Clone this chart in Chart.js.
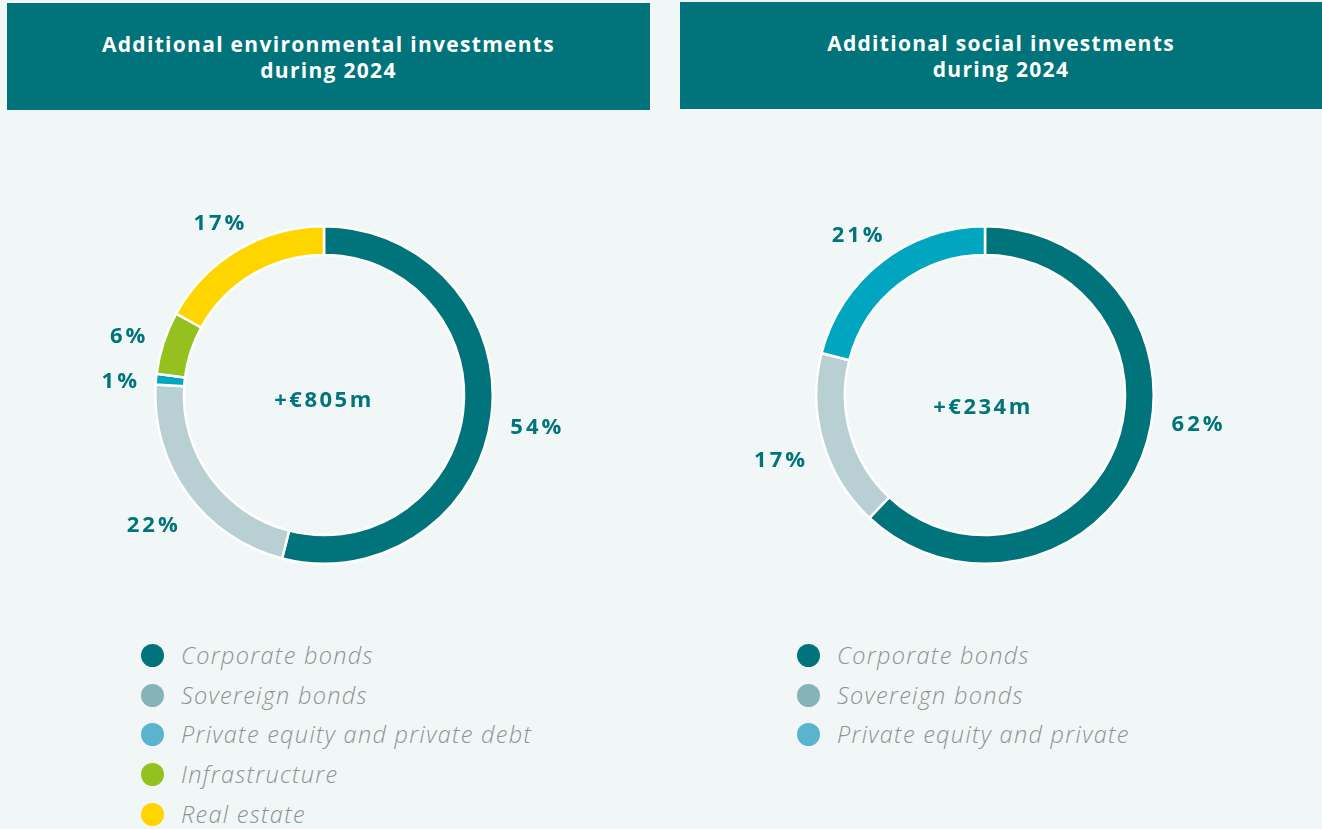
<!DOCTYPE html>
<html>
<head>
<meta charset="utf-8">
<script src="https://cdn.jsdelivr.net/npm/chart.js@4.4.1/dist/chart.umd.min.js"></script>
<style>
  html, body { margin: 0; padding: 0; }
  body { width: 1322px; height: 829px; background: #F1F6F6; position: relative; overflow: hidden; font-family: "Open Sans", sans-serif; }
  .hdr { position: absolute; background: #00747A; color: #fff; font-weight: 700; font-size: 21px; letter-spacing: 1.3px; line-height: 26px; text-align: center; display: flex; align-items: center; justify-content: center; }
  .hdr span { display: block; margin-top: 0px; }
  canvas { position: absolute; }
  .legend { position: absolute; margin: 0; padding: 0; list-style: none; }
  .legend li { position: relative; height: 39.7px; line-height: 39.7px; font-style: italic; font-weight: 300; font-size: 23.5px; letter-spacing: 1.3px; color: #8E9393; white-space: nowrap; }
  .legend li i { position: absolute; width: 23px; height: 23px; border-radius: 50%; top: 8px; }
</style>
</head>
<body>
<div class="hdr" style="left:7px;top:3px;width:643px;height:107px;"><span>Additional environmental investments<br>during 2024</span></div>
<div class="hdr" style="left:680px;top:2px;width:642px;height:107px;"><span>Additional social investments<br>during 2024</span></div>

<canvas id="envChart" width="650" height="500" style="left:0;top:120px;"></canvas>
<canvas id="socChart" width="662" height="500" style="left:660px;top:120px;"></canvas>

<ul class="legend" id="envLegend" style="left:141px;top:636px;"></ul>
<ul class="legend" id="socLegend" style="left:797px;top:636px;"></ul>

<script>
// ---- Data ----
const envCategories = ["Corporate bonds", "Sovereign bonds", "Private equity and private debt", "Infrastructure", "Real estate"];
const envValues = [54, 22, 1, 6, 17];
const envTotal = "+€805m";

const socCategories = ["Corporate bonds", "Sovereign bonds", "Private equity and private"];
const socValues = [62, 17, 21];
const socTotal = "+€234m";

// ---- Styles ----
const envArcColors = ["#00747A", "#B8D0D3", "#00A5C0", "#95C11F", "#FFD500"];
const envLegendColors = ["#00747A", "#86B3B6", "#5BB4CC", "#95C11F", "#FFD500"];
const socArcColors = ["#00747A", "#B8D0D3", "#00A5C0"];
const socLegendColors = ["#00747A", "#86B3B6", "#5BB4CC"];

const labelPlugin = {
  id: 'donutLabels',
  afterDatasetsDraw(chart, args, opts) {
    const ctx = chart.ctx;
    const meta = chart.getDatasetMeta(0);
    const values = chart.data.datasets[0].data;
    ctx.save();
    ctx.fillStyle = opts.color;
    ctx.font = opts.font;
    ctx.letterSpacing = opts.letterSpacing || '0px';
    ctx.textAlign = 'center';
    ctx.textBaseline = 'middle';
    const over = opts.angleOverrides || {};
    meta.data.forEach((arc, i) => {
      const p = arc.getProps(['x', 'y', 'startAngle', 'endAngle', 'outerRadius'], true);
      let mid = (p.startAngle + p.endAngle) / 2;
      if (over[i] !== undefined) mid = (over[i] - 90) * Math.PI / 180;
      const txt = values[i] + '%';
      const w = ctx.measureText(txt).width;
      const h = 16;
      const ux = Math.cos(mid), uy = Math.sin(mid);
      const d = p.outerRadius + opts.gap + Math.abs(ux) * w / 2 + Math.abs(uy) * h / 2;
      ctx.fillText(txt, p.x + ux * d + 1.5, p.y + uy * d + opts.dy);
    });
    // center text
    const a0 = meta.data[0];
    ctx.font = opts.centerFont;
    ctx.letterSpacing = opts.centerLetterSpacing || '0px';
    ctx.fillText(opts.centerText, a0.x + (opts.centerDx || 0), a0.y + (opts.centerDy || 0));
    ctx.restore();
  }
};

function makeDonut(id, cats, vals, colors, padding, labelOpts) {
  return new Chart(document.getElementById(id), {
    type: 'doughnut',
    data: {
      labels: cats,
      datasets: [{
        data: vals,
        backgroundColor: colors,
        borderColor: '#FFFFFF',
        borderWidth: 2.5,
        hoverOffset: 0
      }]
    },
    options: {
      responsive: false,
      animation: false,
      cutout: '83%',
      rotation: 0,
      layout: { padding: padding },
      plugins: {
        legend: { display: false },
        tooltip: { enabled: false },
        donutLabels: labelOpts
      }
    },
    plugins: [labelPlugin]
  });
}

const baseLabel = {
  color: '#00747A',
  font: '700 22px "Open Sans"',
  letterSpacing: '3px',
  centerFont: '700 22px "Open Sans"',
  centerLetterSpacing: '2.5px',
  gap: 17,
  dy: 6
};

makeDonut('envChart', envCategories, envValues, envArcColors,
  { left: 154, right: 156, top: 105, bottom: 55 },
  Object.assign({}, baseLabel, { centerText: envTotal, centerDx: 0, centerDy: 6 }));

makeDonut('socChart', socCategories, socValues, socArcColors,
  { left: 155, right: 167, top: 105, bottom: 55 },
  Object.assign({}, baseLabel, { centerText: socTotal, centerDx: -2, centerDy: 13, angleOverrides: { 0: 96.5 } }));

function buildLegend(elId, cats, colors) {
  const ul = document.getElementById(elId);
  cats.forEach((c, i) => {
    const li = document.createElement('li');
    const dot = document.createElement('i');
    dot.style.background = colors[i];
    li.appendChild(dot);
    const s = document.createElement('span');
    s.textContent = c;
    s.style.marginLeft = '40px';
    li.appendChild(s);
    ul.appendChild(li);
  });
}
buildLegend('envLegend', envCategories, envLegendColors);
buildLegend('socLegend', socCategories, socLegendColors);
</script>
</body>
</html>
